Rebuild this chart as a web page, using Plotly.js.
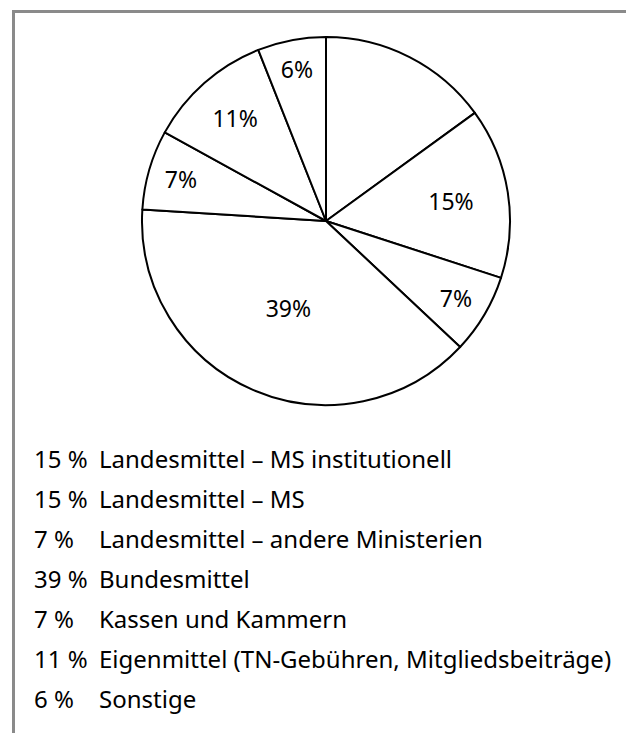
<!DOCTYPE html>
<html>
<head>
<meta charset="utf-8">
<script src="https://cdn.plot.ly/plotly-3.0.1.min.js"></script>
<style>html,body{margin:0;padding:0;background:#fff;}#chart{width:626px;height:733px;}</style>
</head>
<body>
<div id="chart"></div>
<script>
var categories = [
  "Landesmittel – MS institutionell",
  "Landesmittel – MS",
  "Landesmittel – andere Ministerien",
  "Bundesmittel",
  "Kassen und Kammern",
  "Eigenmittel (TN-Gebühren, Mitgliedsbeiträge)",
  "Sonstige"
];
var values = [15, 15, 7, 39, 7, 11, 6];
var sliceLabels = ["", "15%", "7%", "39%", "7%", "11%", "6%"];
var legendPct = ["15 %", "15 %", "7 %", "39 %", "7 %", "11 %", "6 %"];

var W = 626, H = 733;
var FONT = "Noto Sans, sans-serif";

var trace = {
  type: "pie",
  labels: categories,
  values: values,
  text: sliceLabels,
  textinfo: "text",
  textposition: "inside",
  insidetextorientation: "horizontal",
  sort: false,
  direction: "clockwise",
  rotation: 0,
  showlegend: false,
  hoverinfo: "label+percent",
  marker: { colors: values.map(function(){return "#ffffff";}), line: { color: "#000000", width: 2 } },
  textfont: { family: FONT, size: 23, color: "#000000" },
  domain: { x: [(326-184)/W, (326+184)/W], y: [1-(221+184)/H, 1-(221-184)/H] }
};

var annotations = [];
var y0 = 458, dy = 40;
for (var i = 0; i < categories.length; i++) {
  var yy = 1 - (y0 + i*dy)/H;
  annotations.push({ xref: "paper", yref: "paper", x: 32/W, y: yy, xanchor: "left", yanchor: "middle",
    text: legendPct[i], showarrow: false, font: { family: FONT, size: 24, color: "#000" } });
  annotations.push({ xref: "paper", yref: "paper", x: 97/W, y: yy, xanchor: "left", yanchor: "middle",
    text: categories[i], showarrow: false, font: { family: FONT, size: 24, color: "#000" } });
}

var layout = {
  width: W, height: H,
  margin: { l: 0, r: 0, t: 0, b: 0 },
  paper_bgcolor: "#ffffff",
  uniformtext: { mode: "show", minsize: 23 },
  annotations: annotations,
  shapes: [
    { type: "line", xref: "paper", yref: "paper", x0: 13.5/W, x1: 13.5/W, y0: 0, y1: 1-11.5/H, line: { color: "#8a8a8a", width: 3 } },
    { type: "line", xref: "paper", yref: "paper", x0: 12/W, x1: 1, y0: 1-11.5/H, y1: 1-11.5/H, line: { color: "#8a8a8a", width: 3 } }
  ]
};

Plotly.newPlot("chart", [trace], layout, { displayModeBar: false, staticPlot: true });
</script>
</body>
</html>
